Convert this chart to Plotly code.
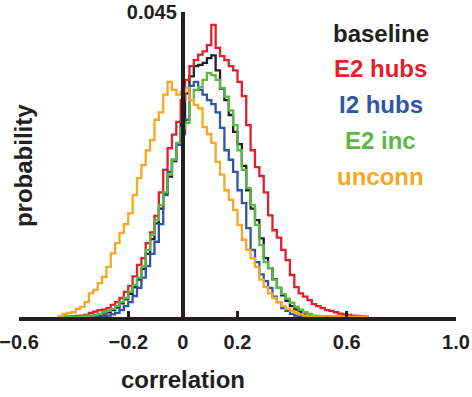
import numpy as np
import plotly.graph_objects as go

# histogram bins (correlation)
bin_start = -0.456
bin_width = 0.016

baseline = [0, 0, 0, 0, 0, 0, 0.0001, 0.00015, 0.0002, 0.0003,
            0.0005, 0.0007, 0.001, 0.0014, 0.002, 0.0026, 0.0034, 0.0044, 0.0055, 0.0071,
            0.0093, 0.0115, 0.0138, 0.016, 0.0182, 0.0207, 0.023, 0.0255, 0.0285, 0.033,
            0.0355, 0.037, 0.0372, 0.0375, 0.0382, 0.0386, 0.0364, 0.0337, 0.032, 0.0298,
            0.0273, 0.0255, 0.0223, 0.0187, 0.016, 0.0143, 0.0116, 0.0087, 0.0072, 0.0056,
            0.0043, 0.0032, 0.0024, 0.0016, 0.0011, 0.0007, 0.0004, 0.0002, 0.0001, 0,
            0, 0, 0, 0, 0, 0, 0, 0, 0, 0,
            0]
e2_hubs = [0, 0, 0, 0.0001, 0.00015, 0.0002, 0.0003, 0.0006, 0.0008, 0.001,
           0.0011, 0.0013, 0.0018, 0.0022, 0.0028, 0.0037, 0.0046, 0.006, 0.0077, 0.0087,
           0.0109, 0.0125, 0.0149, 0.0184, 0.0217, 0.0249, 0.0269, 0.0288, 0.032, 0.035,
           0.037, 0.0379, 0.0387, 0.0392, 0.0401, 0.0431, 0.0397, 0.0385, 0.0379, 0.037,
           0.0364, 0.0347, 0.0326, 0.0283, 0.0246, 0.0221, 0.0208, 0.0184, 0.015, 0.0128,
           0.0117, 0.0099, 0.0084, 0.0062, 0.0044, 0.0035, 0.003, 0.0025, 0.0019, 0.0016,
           0.0013, 0.001, 0.0009, 0.0007, 0.0005, 0.0004, 0.0003, 0.0002, 0.00015, 0.0001,
           0]
i2_hubs = [0, 0, 0, 0, 0, 0, 0, 0, 0, 0.0001,
           0.00015, 0.0002, 0.0004, 0.0006, 0.001, 0.0016, 0.0022, 0.0031, 0.0043, 0.0058,
           0.0075, 0.0093, 0.0111, 0.0137, 0.018, 0.0214, 0.0232, 0.0254, 0.027, 0.0291,
           0.0341, 0.0347, 0.0335, 0.0328, 0.032, 0.0314, 0.0302, 0.0279, 0.0246, 0.0232,
           0.0214, 0.0187, 0.0168, 0.0131, 0.0099, 0.0081, 0.0063, 0.0053, 0.0043, 0.003,
           0.0022, 0.0013, 0.0009, 0.00045, 0.0002, 0.0001, 0, 0, 0, 0,
           0, 0, 0, 0, 0, 0, 0, 0, 0, 0,
           0]
e2_inc = [0, 0, 0, 0, 0, 0.0001, 0.00015, 0.0002, 0.0003, 0.00045,
          0.0007, 0.0009, 0.0012, 0.0016, 0.0022, 0.0028, 0.0037, 0.0047, 0.0058, 0.0075,
          0.0099, 0.0121, 0.0143, 0.0165, 0.0184, 0.021, 0.0232, 0.0257, 0.0279, 0.0286,
          0.032, 0.0335, 0.0339, 0.035, 0.036, 0.0357, 0.035, 0.0338, 0.0325, 0.0305,
          0.0283, 0.0246, 0.0217, 0.019, 0.0165, 0.0136, 0.0106, 0.0081, 0.0072, 0.0055,
          0.0043, 0.0034, 0.0027, 0.0021, 0.0015, 0.0011, 0.0007, 0.00045, 0.0002, 0.00015,
          0.0001, 0, 0, 0, 0, 0, 0, 0, 0, 0,
          0]
unconn = [0.0001, 0.00045, 0.0006, 0.0007, 0.0012, 0.0015, 0.0022, 0.0035, 0.004, 0.005,
          0.0059, 0.0074, 0.0094, 0.0109, 0.0124, 0.0137, 0.0153, 0.018, 0.0205, 0.0224,
          0.0246, 0.0261, 0.0291, 0.0302, 0.0328, 0.0347, 0.0335, 0.0328, 0.0332, 0.0338,
          0.032, 0.0313, 0.0308, 0.028, 0.027, 0.0257, 0.0229, 0.021, 0.0187, 0.0173,
          0.0158, 0.0136, 0.0114, 0.0099, 0.0087, 0.0074, 0.0055, 0.0044, 0.0035, 0.0028,
          0.0022, 0.0016, 0.0012, 0.0009, 0.0006, 0.0004, 0.0002, 0.0001, 0, 0,
          0, 0, 0, 0, 0, 0, 0, 0, 0, 0,
          0]

series_names = ["baseline", "E2 hubs", "I2 hubs", "E2 inc", "unconn"]
series_values = [baseline, e2_hubs, i2_hubs, e2_inc, unconn]
series_colors = ["#231f20", "#e41f2b", "#2f56a6", "#5bb847", "#f8a722"]

x_tickvals = [-0.6, -0.2, 0, 0.2, 0.6, 1.0]
x_ticktext = ["\u22120.6", "\u22120.2", "0", "0.2", "0.6", "1.0"]
y_tickvals = [0.045]
y_ticktext = ["0.045"]

FONT = "Liberation Sans, Arial, sans-serif"
INK = "#231f20"

n_bins = len(baseline)
edges = bin_start + bin_width * np.arange(n_bins + 1)

fig = go.Figure()
for name, vals, col in zip(series_names, series_values, series_colors):
    xs = [edges[0]] + list(edges)
    ys = [0] + list(vals) + [0]
    fig.add_trace(go.Scatter(x=xs, y=ys, mode="lines", line_shape="hv",
                             line=dict(color=col, width=2.3), name=name,
                             showlegend=False, hoverinfo="skip"))

fig.update_layout(
    width=472, height=397,
    margin=dict(l=19, r=16, t=12, b=80),
    paper_bgcolor="white", plot_bgcolor="white",
    xaxis=dict(range=[-0.6, 1.0], tickvals=x_tickvals, ticktext=x_ticktext,
               showline=True, linewidth=4, linecolor=INK, mirror=False,
               ticks="inside", ticklen=6, tickwidth=3, tickcolor=INK,
               showgrid=False, zeroline=False, automargin=False,
               ticklabelstandoff=4, ticklabeloverflow="allow",
               tickfont=dict(family=FONT, size=20, color=INK, weight="bold")),
    yaxis=dict(range=[0, 0.045], tickvals=y_tickvals, ticktext=y_ticktext,
               anchor="free", position=0.375,
               showline=True, linewidth=4, linecolor=INK,
               ticks="inside", ticklen=6, tickwidth=3, tickcolor=INK,
               showgrid=False, zeroline=False, automargin=False,
               ticklabeloverflow="allow",
               tickfont=dict(family=FONT, size=20, color=INK, weight="bold")),
)

# axis titles
fig.add_annotation(text="correlation", xref="paper", yref="paper",
                   x=0.375, y=-0.205, xanchor="center", yanchor="middle",
                   showarrow=False, font=dict(family=FONT, size=24, color=INK, weight="bold"))
fig.add_annotation(text="probability", xref="paper", yref="paper",
                   x=0.009, y=0.498, xanchor="center", yanchor="middle", textangle=-90,
                   showarrow=False, font=dict(family=FONT, size=24, color=INK, weight="bold"))

# legend as coloured text
legend_y = [0.928, 0.815, 0.698, 0.580, 0.462]
for name, col, ly in zip(series_names, series_colors, legend_y):
    fig.add_annotation(text=name, xref="paper", yref="paper", x=0.828, y=ly,
                       xanchor="center", yanchor="middle", showarrow=False,
                       font=dict(family=FONT, size=24, color=col, weight="bold"))

fig.write_html("out.html", config={"displayModeBar": False},
               post_script="document.body.style.margin='0';document.body.style.overflow='hidden';")
